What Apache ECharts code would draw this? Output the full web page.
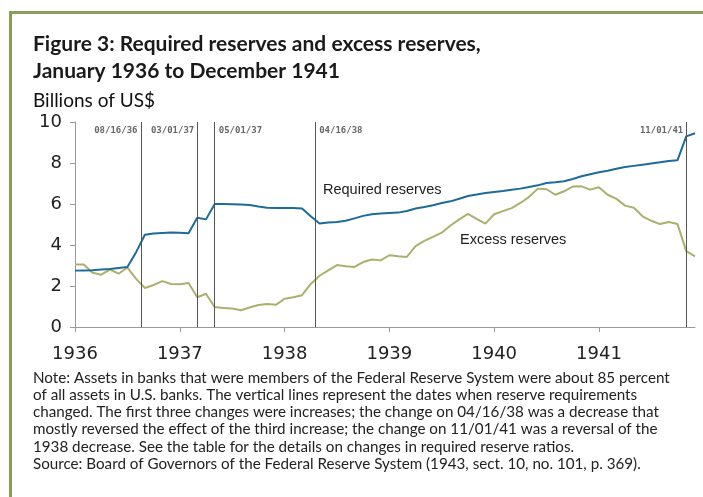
<!DOCTYPE html>
<html>
<head>
<meta charset="utf-8">
<script src="https://cdn.jsdelivr.net/npm/echarts@6/dist/echarts.min.js"></script>
<style>
  html, body { margin: 0; padding: 0; background: #fff; }
  #chart { width: 703px; height: 497px; }
</style>
</head>
<body>
<div id="chart"></div>
<script>
// monthly data, January 1936 .. December 1941 (billions of US$)
var startYear = 1936
var yearTicks = [1936, 1937, 1938, 1939, 1940, 1941]
var required = [
  2.75, 2.76, 2.77, 2.80, 2.83, 2.88, 2.93, 3.65, 4.50, 4.56, 4.59, 4.61,
  4.60, 4.57, 5.33, 5.25, 6.00, 6.00, 5.99, 5.97, 5.95, 5.88, 5.82, 5.80,
  5.80, 5.80, 5.78, 5.40, 5.05, 5.10, 5.12, 5.18, 5.30, 5.42, 5.50, 5.54,
  5.56, 5.58, 5.66, 5.78, 5.85, 5.94, 6.05, 6.13, 6.26, 6.39, 6.46, 6.54,
  6.59, 6.63, 6.70, 6.75, 6.83, 6.91, 7.02, 7.06, 7.11, 7.22, 7.35, 7.45,
  7.55, 7.62, 7.72, 7.80, 7.86, 7.92, 7.98, 8.04, 8.10, 8.14, 9.30, 9.45
]
var excess = [
  3.05, 3.05, 2.65, 2.55, 2.80, 2.60, 2.90, 2.35, 1.90, 2.05, 2.24, 2.10,
  2.08, 2.15, 1.45, 1.62, 0.97, 0.93, 0.90, 0.82, 0.95, 1.07, 1.12, 1.08,
  1.38, 1.45, 1.55, 2.10, 2.50, 2.76, 3.02, 2.96, 2.93, 3.17, 3.29, 3.25,
  3.50, 3.45, 3.42, 3.95, 4.20, 4.40, 4.60, 4.95, 5.25, 5.52, 5.28, 5.04,
  5.50, 5.65, 5.80, 6.05, 6.35, 6.75, 6.72, 6.45, 6.62, 6.85, 6.86, 6.70,
  6.82, 6.45, 6.25, 5.92, 5.82, 5.40, 5.18, 5.02, 5.12, 5.02, 3.70, 3.45
]
// reserve requirement changes (month offset from Jan 1936)
var eventLabels = ['08/16/36', '03/01/37', '05/01/37', '04/16/38', '11/01/41']
var eventMonths = [7.5, 14, 16, 27.5, 70]
var eventSide = ['left', 'left', 'right', 'right', 'left']

var noteLines = [
  'Note: Assets in banks that were members of the Federal Reserve System were about 85 percent',
  'of all assets in U.S. banks. The vertical lines represent the dates when reserve requirements',
  'changed. The first three changes were increases; the change on 04/16/38 was a decrease that',
  'mostly reversed the effect of the third increase; the change on 11/01/41 was a reversal of the',
  '1938 decrease. See the table for the details on changes in required reserve ratios.',
  'Source: Board of Governors of the Federal Reserve System (1943, sect. 10, no. 101, p. 369).'
]

function toPoints(arr) {
  return arr.map(function (v, i) { return [startYear + i / 12, v] })
}

var chart = echarts.init(document.getElementById('chart'))
var frameColor = '#8a9d57'

chart.setOption({
  animation: false,
  backgroundColor: '#fff',
  title: {
    text: 'Figure 3: Required reserves and excess reserves,\nJanuary 1936 to December 1941',
    left: 33,
    top: 31,
    padding: 0,
    textStyle: { fontFamily: 'Lato', fontSize: 21, fontWeight: 'bold', color: '#1a1a1a', lineHeight: 27 }
  },
  grid: { left: 75, right: 8, top: 122, bottom: 170 },
  xAxis: {
    type: 'value',
    min: startYear,
    max: startYear + 71 / 12,
    interval: 1,
    splitLine: { show: false },
    axisLine: { lineStyle: { color: '#999' } },
    axisTick: { customValues: yearTicks, length: 5, lineStyle: { color: '#999' } },
    axisLabel: {
      customValues: yearTicks,
      margin: 18,
      fontFamily: 'DejaVu Sans',
      fontSize: 18,
      color: '#222',
      formatter: function (v) { return String(Math.round(v)) }
    }
  },
  yAxis: {
    type: 'value',
    min: 0,
    max: 10,
    interval: 2,
    splitLine: { show: false },
    axisLine: { show: true, lineStyle: { color: '#999' } },
    axisTick: { show: true, length: 5, lineStyle: { color: '#999' } },
    axisLabel: { margin: 13, fontFamily: 'DejaVu Sans', fontSize: 18, color: '#222' }
  },
  series: [
    {
      name: 'Excess reserves',
      type: 'line',
      data: toPoints(excess),
      showSymbol: false,
      lineStyle: { color: '#acb06e', width: 2 }
    },
    {
      name: 'Required reserves',
      type: 'line',
      data: toPoints(required),
      showSymbol: false,
      lineStyle: { color: '#1f6b97', width: 2 },
      markLine: {
        silent: true,
        symbol: ['none', 'none'],
        label: { show: false },
        lineStyle: { color: '#555', width: 1, type: 'solid' },
        data: eventMonths.map(function (m) { return { xAxis: startYear + m / 12 } })
      }
    }
  ]
})

// decorations and texts placed after the scales exist
var graphics = [
  { type: 'rect', shape: { x: 9, y: 11, width: 694, height: 3 }, style: { fill: frameColor } },
  { type: 'rect', shape: { x: 9, y: 11, width: 3, height: 486 }, style: { fill: frameColor } },
  {
    type: 'text', left: 33, top: 91,
    style: { text: 'Billions of US$', font: '19px Lato', fill: '#111' }
  },
  {
    type: 'text', left: 323, top: 182,
    style: { text: 'Required reserves', font: '14.5px "Liberation Sans"', fill: '#222' }
  },
  {
    type: 'text', left: 460, top: 232,
    style: { text: 'Excess reserves', font: '14.5px "Liberation Sans"', fill: '#222' }
  },
  {
    type: 'text', left: 33, top: 369,
    style: { text: noteLines.join('\n'), font: '15.2px Lato', fill: '#222', lineHeight: 17.3 }
  }
]
eventMonths.forEach(function (m, i) {
  var px = chart.convertToPixel({ xAxisIndex: 0 }, startYear + m / 12)
  var left = eventSide[i] === 'left'
  graphics.push({
    type: 'text',
    x: left ? px - 3 : px + 4,
    y: 131,
    style: {
      text: eventLabels[i],
      font: 'bold 9px "DejaVu Sans Mono"',
      fill: '#666',
      align: left ? 'right' : 'left',
      verticalAlign: 'middle'
    }
  })
})
chart.setOption({ graphic: graphics })
</script>
</body>
</html>
